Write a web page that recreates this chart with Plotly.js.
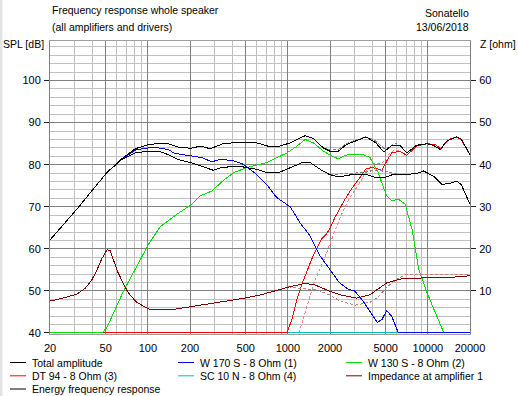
<!DOCTYPE html>
<html><head><meta charset="utf-8">
<script src="https://cdn.plot.ly/plotly-3.0.1.min.js"></script>
<style>html,body{margin:0;padding:0;background:#fff;overflow:hidden}#chart{width:518px;height:396px}
#chart .scatterlayer path.js-line{shape-rendering:crispEdges}</style>
</head><body><div id="chart"></div>
<script>
// ---------- DATA ----------
const xTickVals = [20, 50, 100, 200, 500, 1000, 2000, 5000, 10000, 20000];
const xTickText = ["20", "50", "100", "200", "500", "1000", "2000", "5000", "10000", "20000"];
const xMinorVals = [30, 40, 60, 70, 80, 90, 300, 400, 600, 700, 800, 900, 3000, 4000, 6000, 7000, 8000, 9000];
const splTicks = [40, 50, 60, 70, 80, 90, 100];
const ohmTicks = [10, 20, 30, 40, 50, 60];

const totalF = [20, 25.7, 31.8, 39.6, 50.9, 65, 81.5, 101, 119, 140, 165, 202, 237, 279, 345, 409, 598, 740, 873, 1040, 1330, 1520, 1790, 2000, 2290, 2620, 3000, 3630, 4250, 4850, 5520, 6320, 7060, 8290, 9850, 10950, 12300, 13600, 16000, 17300, 20000];
const totalV = [62.1, 66.2, 69.8, 73.7, 78.1, 81.4, 83.8, 84.8, 85.0, 85.0, 84.2, 83.9, 84.4, 83.8, 85.0, 85.2, 85.2, 84.3, 84.4, 85.2, 86.9, 86.2, 84.0, 83.2, 83.2, 84.8, 85.6, 86.6, 85.2, 83.0, 84.6, 84.6, 82.8, 84.6, 85.0, 84.6, 83.6, 85.6, 86.6, 86.1, 82.4];

const energyF = [20, 25.7, 31.8, 39.6, 50.9, 65, 81.5, 101, 119, 140, 165, 202, 247, 292, 345, 455, 598, 706, 873, 1040, 1290, 1440, 1700, 2000, 2330, 2920, 3630, 4250, 4850, 5660, 7060, 8290, 9310, 10950, 12640, 14400, 16000, 17300, 20000];
const energyV = [62.1, 66.2, 69.8, 73.7, 78.1, 81.2, 82.8, 83.2, 83.2, 82.4, 81.2, 80.5, 79.6, 78.7, 79.4, 79.6, 78.9, 78.1, 78.2, 79.3, 80.6, 80.5, 78.9, 77.6, 77.1, 77.7, 77.7, 76.9, 76.9, 77.7, 77.7, 77.9, 78.5, 77.3, 75.3, 75.6, 76.1, 75.3, 70.6];

const w170F = [20, 25.7, 31.8, 39.6, 50.9, 65, 81.5, 101, 119, 140, 155, 185, 217, 242, 285, 336, 409, 481, 598, 706, 832, 1040, 1220, 1440, 1700, 2000, 2330, 2700, 3000, 3440, 3990, 4350, 4700, 5070, 5520, 6160, 20000];
const w170V = [62.1, 66.2, 69.8, 73.7, 78.1, 81.3, 83.5, 84.0, 84.0, 83.6, 82.7, 82.3, 82.0, 81.7, 80.7, 81.3, 80.9, 80.1, 77.7, 75.3, 72.2, 70.0, 66.2, 63.1, 58.3, 55.0, 52.0, 50.4, 50.0, 47.6, 44.5, 42.5, 43.2, 45.3, 44.0, 40, 40];

const w130F = [20, 47, 51, 67, 88, 101, 122, 156, 202, 237, 285, 345, 409, 507, 706, 985, 1160, 1330, 1520, 1795, 2000, 2290, 2625, 3440, 3860, 4420, 5075, 5520, 6160, 6890, 7700, 8600, 9850, 11300, 12950, 20000];
const w130V = [40, 40, 41.3, 50.0, 57.3, 61.1, 65.2, 67.9, 70.4, 72.6, 73.7, 76.2, 78.1, 79.3, 80.5, 82.8, 84.4, 86.0, 85.2, 83.2, 82.3, 81.4, 82.3, 82.4, 81.7, 78.1, 72.6, 71.4, 71.8, 70.6, 64.7, 55.2, 49.6, 44.9, 40.2, 40];

const dt94F = [20, 985, 1070, 1160, 1290, 1330, 1520, 1740, 1890, 2000, 2180, 2540, 2830, 3270, 3630, 4060, 4700, 5070, 5520, 6320, 7060, 8290, 9850, 11300, 12300, 14400, 15900, 17300, 20000];
const dt94V = [40, 40, 43.3, 48.0, 52.5, 53.6, 58.5, 62.3, 63.5, 64.9, 67.6, 71.6, 74.1, 76.9, 79.1, 79.3, 78.7, 80.8, 82.8, 83.2, 82.2, 84.4, 85.0, 84.8, 83.8, 86.1, 86.6, 86.0, 82.3];

const sc10F = [20, 200, 2000, 20000];
const sc10V = [40, 40, 40, 40];

const impF = [20, 23.5, 31, 35.6, 39.6, 43.2, 46.8, 51.1, 53.7, 57.2, 61, 66.7, 72.3, 83, 103, 152, 200, 292, 455, 631, 1007, 1289, 1520, 2000, 2400, 3100, 3862, 5080, 6325, 7060, 10940, 14390, 20000];
const impZ = [7.6, 8.1, 9.2, 10.6, 12.5, 14.9, 17.6, 19.8, 19.6, 17.2, 14.5, 11.8, 9.6, 7.3, 5.6, 5.6, 6.2, 7.0, 8.1, 9.0, 10.9, 11.7, 11.6, 9.9, 9.0, 8.3, 9.1, 11.9, 12.8, 13.0, 13.1, 13.2, 13.6];

// reference (dashed) curves, not in the legend
const refImpF = [1007, 1220, 1640, 2000, 2330, 3000, 3860, 4400, 5070, 6000, 7060, 10000, 20000];
const refImpZ = [11.0, 10.6, 10.2, 9.0, 7.7, 6.6, 7.3, 8.5, 10.8, 12.8, 14.0, 14.0, 13.9];
const refDtF = [1200, 1290, 1400, 1560, 1790, 2000, 2330, 2720, 3270, 3630, 4060, 4700, 5070, 5800, 6320];
const refDtV = [40, 43.3, 47.3, 52.5, 57.0, 61.2, 67.0, 71.8, 75.7, 78.5, 80.2, 80.3, 82.0, 83.6, 83.2];
const refTotF = [1800, 2000, 2300, 2620, 3000, 3600, 4100, 4500, 4850, 5200, 5800, 6300];
const refTotV = [84.0, 83.6, 83.6, 85.0, 85.8, 86.6, 86.0, 84.8, 83.9, 84.0, 85.2, 84.6];
const refEnF = [2000, 2400, 3000, 3600, 4000, 4500, 5000, 5600, 6200];
const refEnV = [77.5, 77.9, 78.0, 78.2, 78.6, 78.6, 78.4, 78.1, 77.8];

const legendOrder = ["Total amplitude", "W 170 S - 8 Ohm (1)", "W 130 S - 8 Ohm (2)", "DT 94 - 8 Ohm (3)", "SC 10 N - 8 Ohm (4)", "Impedance at amplifier 1", "Energy frequency response"];

// ---------- STYLE ----------
const C = {total: "#000000", w170: "#0000ff", w130: "#00e000", dt94: "#ff0000", sc10: "#00c0c0", imp: "#800000", energy: "#000000"};
const W = 518, H = 396, L = 50, R = 48, T = 41, B = 62;
const pw = W - L - R, ph = H - T - B;
const yLo = 39.76, yHi = 109.4;
const FONT = "Liberation Sans, Arial, sans-serif";
const px = x => (x - L) / pw;
const py = y => (H - B - y) / ph;

function line(x, y, color, name, opts) {
  return Object.assign({type: "scatter", mode: "lines", x: x, y: y, name: name,
    line: {color: color, width: 1}, showlegend: false, hoverinfo: "skip"}, opts || {});
}

const traces = [
  line(sc10F, sc10V, C.sc10, legendOrder[4]),
  line(refDtF, refDtV, "#ff8080", "ref DT", {line: {color: "#ff8080", width: 1, dash: "3px,2px"}}),
  line(dt94F, dt94V, C.dt94, legendOrder[3]),
  line(w130F, w130V, C.w130, legendOrder[2]),
  line(w170F, w170V, C.w170, legendOrder[1]),
  line(refTotF, refTotV, "#808080", "ref total", {line: {color: "#808080", width: 1, dash: "3px,2px"}}),
  line(refEnF, refEnV, "#808080", "ref energy", {line: {color: "#808080", width: 1, dash: "3px,2px"}}),
  line(totalF, totalV, C.total, legendOrder[0]),
  line(energyF, energyV, C.energy, legendOrder[6]),
  line(refImpF, refImpZ, "#c08080", "ref imp", {yaxis: "y2", line: {color: "#c08080", width: 1, dash: "3px,2px"}}),
  line(impF, impZ, C.imp, legendOrder[5], {yaxis: "y2"})
];

// manual legend (3 columns)
const legendColors = [C.total, C.w170, C.w130, C.dt94, C.sc10, C.imp, C.energy];
const colX = [10, 178, 346];
const rowY = [362.5, 375.8, 389];
const shapes = [{type: "rect", xref: "paper", yref: "paper", x0: px(0), x1: px(2.5), y0: py(H), y1: py(0), fillcolor: "#e4e4e4", line: {width: 0}, layer: "below"}];
const annotations = [];
legendOrder.forEach((nm, i) => {
  const cx = colX[i % 3], ry = rowY[Math.floor(i / 3)];
  shapes.push({type: "line", xref: "paper", yref: "paper", x0: px(cx), x1: px(cx + 16), y0: py(ry), y1: py(ry), line: {color: legendColors[i], width: 1}});
  annotations.push({xref: "paper", yref: "paper", x: px(cx + 20), y: py(ry), xanchor: "left", yanchor: "middle", text: nm, showarrow: false, font: {family: FONT, size: 10.5, color: "#000"}});
});
function txt(t, x, y, anchor) {
  annotations.push({xref: "paper", yref: "paper", x: px(x), y: py(y), xanchor: anchor, yanchor: "middle", text: t, showarrow: false, font: {family: FONT, size: 10.5, color: "#000"}});
}
txt("Frequency response whole speaker", 50, 10, "left");
txt("(all amplifiers and drivers)", 50, 27, "left");
txt("Sonatello", 471, 13, "right");
txt("13/06/2018", 471, 27, "right");
txt("SPL [dB]", 46, 44, "right");
txt("Z [ohm]", 478, 44, "left");

const layout = {
  width: W, height: H,
  margin: {l: L, r: R, t: T, b: B, pad: 0},
  paper_bgcolor: "#ffffff", plot_bgcolor: "#ffffff",
  showlegend: false,
  font: {family: FONT, size: 11, color: "#000"},
  xaxis: {
    type: "log", range: [Math.log10(20), Math.log10(20000)],
    tickmode: "array", tickvals: xTickVals, ticktext: xTickText,
    ticks: "", showgrid: true, gridcolor: "#808080", gridwidth: 1,
    minor: {tickmode: "array", tickvals: xMinorVals, showgrid: true, gridcolor: "#c0c0c0", gridwidth: 1, ticks: ""},
    showline: true, linecolor: "#a0a0a0", linewidth: 1, mirror: true,
    zeroline: false, fixedrange: true, ticklabelstandoff: 4,
    tickfont: {family: FONT, size: 11, color: "#000"}
  },
  yaxis: {
    range: [yLo, yHi], tickmode: "array", tickvals: splTicks,
    ticks: "outside", ticklen: 5, tickcolor: "#202020", tickwidth: 1,
    showgrid: true, gridcolor: "#808080", gridwidth: 1,
    minor: {tick0: 40, dtick: 2, showgrid: true, gridcolor: "#c0c0c0", gridwidth: 1, ticks: ""},
    showline: true, linecolor: "#808080", linewidth: 1,
    zeroline: false, fixedrange: true, ticklabelstandoff: 1,
    tickfont: {family: FONT, size: 11, color: "#000"}
  },
  yaxis2: {
    overlaying: "y", side: "right", range: [yLo - 40, yHi - 40],
    tickmode: "array", tickvals: ohmTicks,
    ticks: "outside", ticklen: 5, tickcolor: "#202020", tickwidth: 1,
    showgrid: false, zeroline: false, showline: true, linecolor: "#808080", linewidth: 1,
    fixedrange: true, ticklabelstandoff: 1,
    tickfont: {family: FONT, size: 11, color: "#000"}
  },
  shapes: shapes,
  annotations: annotations
};

Plotly.newPlot("chart", traces, layout, {displayModeBar: false, staticPlot: true});
</script>
</body></html>
